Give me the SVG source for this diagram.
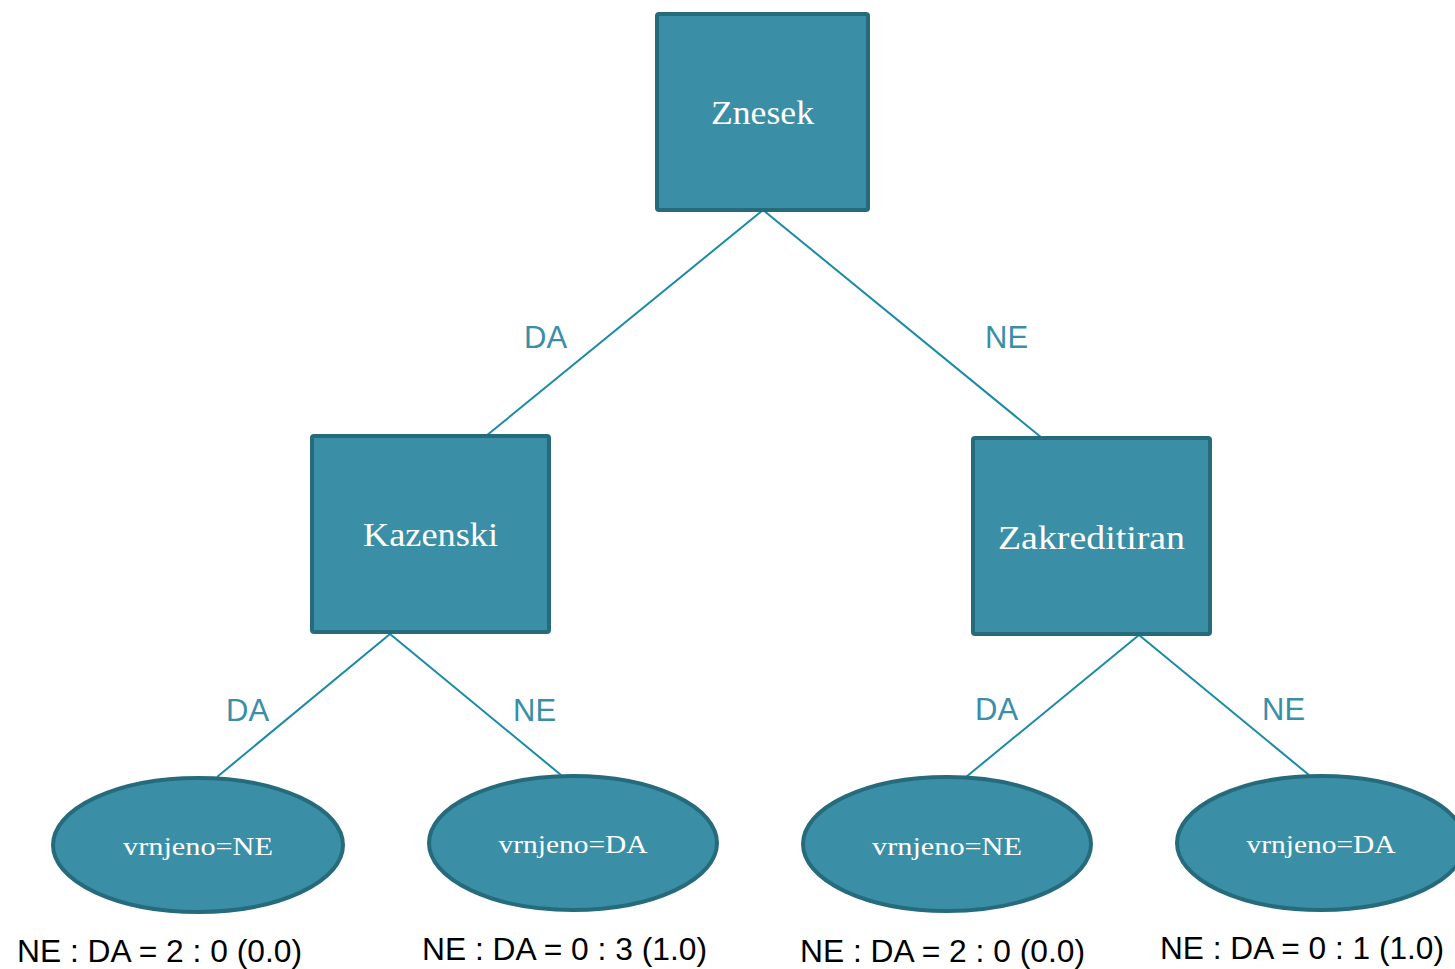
<svg xmlns="http://www.w3.org/2000/svg" width="1455" height="969" viewBox="0 0 1455 969">
<style>
.box{fill:#3A8FA7;stroke:#266B7B;stroke-width:4}
.nt{font-family:"Liberation Serif",serif;fill:#FFFFFF;text-anchor:middle}
.big{font-size:34px}
.small{font-size:25px}
.edge{stroke:#1A8AA6;stroke-width:2;fill:none}
.el{font-family:"Liberation Sans",Arial,sans-serif;font-size:31px;fill:#3A8FA7}
.stat{font-family:"Liberation Sans",Arial,sans-serif;font-size:31px;fill:#000000}
</style>
<rect width="1455" height="969" fill="#FFFFFF"/>
<g id="connectors">
<line class="edge" x1="763" y1="210" x2="486" y2="436"/>
<line class="edge" x1="763" y1="210" x2="1042" y2="438"/>
<line class="edge" x1="390" y1="634" x2="217" y2="777"/>
<line class="edge" x1="390" y1="634" x2="561" y2="775"/>
<line class="edge" x1="1139" y1="635" x2="966" y2="777"/>
<line class="edge" x1="1139" y1="635" x2="1309" y2="775"/>
<text class="el" x="524" y="348">DA</text>
<text class="el" x="985" y="348">NE</text>
<text class="el" x="226" y="721">DA</text>
<text class="el" x="513" y="721">NE</text>
<text class="el" x="975" y="720">DA</text>
<text class="el" x="1262" y="720">NE</text>
</g>
<g id="znesek">
<rect class="box" x="657" y="14" width="211" height="196" rx="2"/>
<text class="nt big" x="762.5" y="124" textLength="103" lengthAdjust="spacingAndGlyphs">Znesek</text>
</g>
<g id="kazenski">
<rect class="box" x="312" y="436" width="237" height="196" rx="2"/>
<text class="nt big" x="430.5" y="546" textLength="135" lengthAdjust="spacingAndGlyphs">Kazenski</text>
</g>
<g id="zakreditiran">
<rect class="box" x="973" y="438" width="237" height="196" rx="2"/>
<text class="nt big" x="1091.5" y="549" textLength="187" lengthAdjust="spacingAndGlyphs">Zakreditiran</text>
</g>
<g id="leaf1">
<ellipse class="box" cx="198" cy="845" rx="145" ry="67"/>
<text class="nt small" x="198" y="855" textLength="150" lengthAdjust="spacingAndGlyphs">vrnjeno=NE</text>
<text class="stat" x="17" y="962" textLength="285" lengthAdjust="spacingAndGlyphs">NE : DA = 2 : 0 (0.0)</text>
</g>
<g id="leaf2">
<ellipse class="box" cx="573" cy="843" rx="144" ry="67"/>
<text class="nt small" x="573" y="853" textLength="149" lengthAdjust="spacingAndGlyphs">vrnjeno=DA</text>
<text class="stat" x="422" y="960" textLength="285" lengthAdjust="spacingAndGlyphs">NE : DA = 0 : 3 (1.0)</text>
</g>
<g id="leaf3">
<ellipse class="box" cx="947" cy="844" rx="144" ry="67"/>
<text class="nt small" x="947" y="855" textLength="150" lengthAdjust="spacingAndGlyphs">vrnjeno=NE</text>
<text class="stat" x="800" y="962" textLength="285" lengthAdjust="spacingAndGlyphs">NE : DA = 2 : 0 (0.0)</text>
</g>
<g id="leaf4">
<ellipse class="box" cx="1321" cy="843" rx="144" ry="67"/>
<text class="nt small" x="1321" y="853" textLength="149" lengthAdjust="spacingAndGlyphs">vrnjeno=DA</text>
<text class="stat" x="1160" y="959" textLength="284" lengthAdjust="spacingAndGlyphs">NE : DA = 0 : 1 (1.0)</text>
</g>
</svg>
